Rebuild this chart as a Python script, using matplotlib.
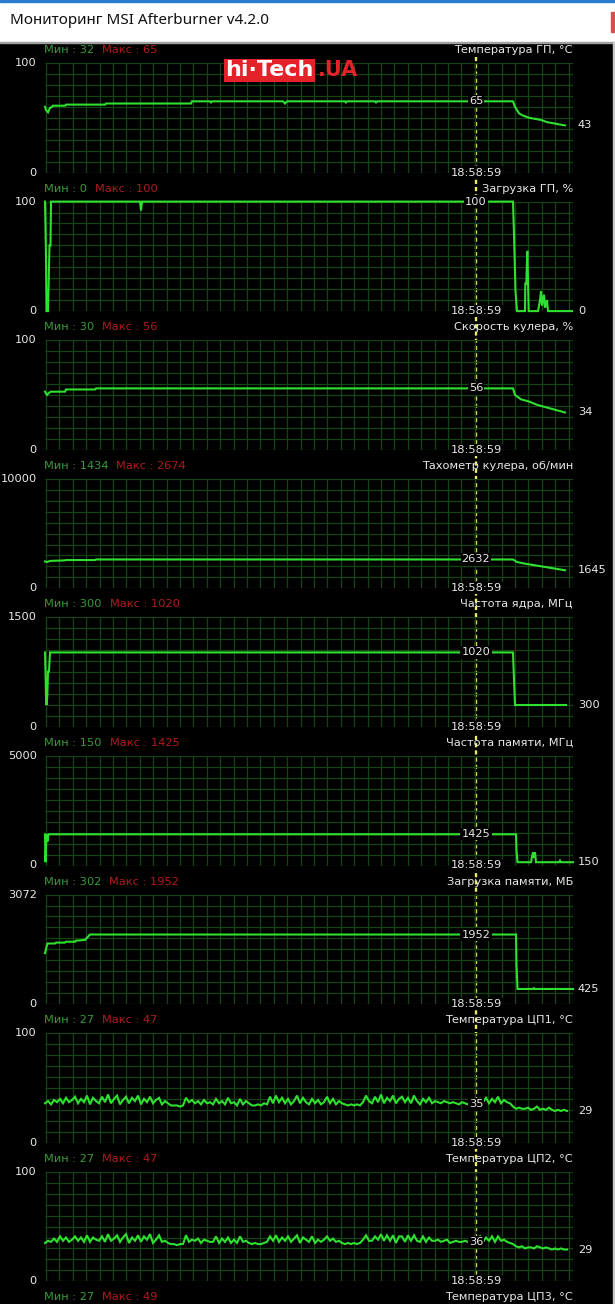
import numpy as np
import matplotlib
matplotlib.use('Agg')
import matplotlib.pyplot as plt
from matplotlib.patches import Rectangle

plt.rcParams['font.family'] = ['DejaVu Sans']
plt.rcParams['font.size'] = 8.2
plt.rcParams['lines.scale_dashes'] = False

W, H = 615, 1304

# --- panel descriptions ---
titles = ['Температура ГП, °C', 'Загрузка ГП, %', 'Скорость кулера, %',
          'Тахометр кулера, об/мин', 'Частота ядра, МГц', 'Частота памяти, МГц',
          'Загрузка памяти, МБ', 'Температура ЦП1, °C', 'Температура ЦП2, °C',
          'Температура ЦП3, °C']
min_vals = [32, 0, 30, 1434, 300, 150, 302, 27, 27, 27]
max_vals = [65, 100, 56, 2674, 1020, 1425, 1952, 47, 47, 49]
y_max = [100, 100, 100, 10000, 1500, 5000, 3072, 100, 100]
top_labels = ['100', '100', '100', '10000', '1500', '5000', '3072', '100', '100']
cursor_labels = ['65', '100', '56', '2632', '1020', '1425', '1952', '35', '36']
last_labels = ['43', '0', '34', '1645', '300', '150', '425', '29', '29']
cursor_time = '18:58:59'
cursor_t = 431

# --- series (t = samples, v = values) ---
gpu_temp_t = [0, 1, 3, 5, 7, 8, 20, 21, 60, 61, 62, 146, 147, 165, 166, 167, 238, 240, 242,
              300, 301, 302, 330, 331, 332, 468, 470, 474, 478, 484, 490, 496, 502, 508, 514, 520]
gpu_temp_v = [60, 57, 55, 59, 60, 61, 61, 62, 62, 63, 63, 63, 65, 65, 64, 65, 65, 63, 65,
              65, 64, 65, 65, 64, 65, 65, 60, 54, 52, 50, 49, 48, 46, 45, 44, 43]

gpu_load_t = [0, 1, 1.5, 3, 4.5, 5.5, 6, 95, 96, 97, 468, 469, 470.5, 472, 480, 480.3, 481.3,
              482.3, 483.7, 493, 495, 496, 497, 499, 500, 502, 503, 527]
gpu_load_v = [100, 50, 0, 0, 60, 60, 100, 100, 92, 100, 100, 70, 18, 0, 0, 25, 25,
              55, 0, 0, 10, 18, 5, 15, 3, 10, 0, 0]

fan_pct_t = [0, 2, 4, 6, 20, 21, 50, 51, 468, 470, 476, 484, 492, 500, 508, 516, 520]
fan_pct_v = [53, 50, 52, 53, 53, 55, 55, 56, 56, 50, 46, 44, 41, 39, 37, 35, 34]

fan_rpm_t = [0, 2, 5, 20, 21, 50, 51, 468, 472, 480, 490, 500, 510, 520]
fan_rpm_v = [2450, 2400, 2500, 2550, 2580, 2580, 2632, 2632, 2400, 2250, 2100, 1950, 1800, 1645]

core_t = [0, 0.5, 1, 1.5, 2.3, 3, 4, 5, 468, 469, 470, 521]
core_v = [1020, 760, 410, 300, 420, 760, 760, 1020, 1020, 650, 300, 300]

mem_clk_t = [0, 0.5, 1.5, 2.5, 3.5, 471, 471.5, 472.5, 486, 487, 488, 489, 490, 491, 493,
             514, 515, 516, 528]
mem_clk_v = [1425, 150, 1425, 1100, 1425, 1425, 700, 150, 150, 400, 600, 350, 600, 150, 150,
             150, 220, 150, 150]

mem_use_t = [0, 1, 2.5, 10, 11, 20, 21, 30, 31, 40, 45, 471, 471.5, 472.5, 488, 489, 490, 528]
mem_use_v = [1430, 1550, 1700, 1700, 1725, 1725, 1750, 1750, 1780, 1800, 1952, 1952, 1100,
             425, 425, 445, 425, 425]

cpu1_v = [36, 38, 35, 39, 37, 40, 36, 41, 37, 39,
          42, 36, 40, 37, 43, 35, 41, 38, 36, 42,
          37, 44, 36, 40, 43, 35, 39, 42, 36, 41,
          38, 43, 35, 40, 37, 42, 36, 39, 41, 35,
          38, 36, 34, 34, 34, 33, 34, 41, 37, 39,
          36, 38, 35, 39, 36, 37, 35, 40, 36, 38,
          35, 41, 36, 37, 34, 40, 35, 38, 36, 34,
          34, 35, 34, 36, 35, 42, 36, 43, 37, 41,
          36, 40, 35, 38, 43, 36, 41, 37, 35, 40,
          36, 39, 35, 37, 42, 36, 40, 35, 38, 36,
          35, 34, 35, 34, 35, 34, 37, 43, 38, 36,
          42, 37, 44, 36, 41, 38, 43, 36, 40, 42,
          37, 41, 36, 43, 38, 35, 40, 37, 41, 36,
          38, 37, 36, 38, 37, 36, 37, 36, 35, 37,
          36, 35, 36, 39, 36, 40, 37, 41, 36, 40,
          37, 42, 36, 39, 37, 36, 33, 31, 32, 31,
          31, 32, 30, 31, 33, 30, 31, 30, 32, 30,
          29, 30, 29, 30, 29]
cpu2_v = [35, 37, 36, 39, 36, 41, 37, 40, 36, 38,
          41, 37, 40, 36, 42, 36, 40, 38, 37, 41,
          36, 43, 37, 39, 42, 36, 40, 43, 35, 40,
          37, 42, 36, 41, 38, 43, 35, 38, 42, 36,
          37, 35, 34, 34, 33, 34, 34, 42, 36, 38,
          37, 39, 35, 38, 37, 36, 36, 41, 35, 39,
          36, 40, 35, 38, 35, 41, 36, 37, 35, 34,
          35, 34, 34, 35, 36, 41, 37, 42, 36, 40,
          37, 41, 36, 39, 42, 35, 40, 38, 36, 41,
          35, 38, 36, 38, 41, 37, 39, 36, 37, 35,
          34, 35, 34, 35, 34, 35, 38, 42, 37, 37,
          41, 38, 43, 37, 42, 37, 42, 35, 41, 41,
          36, 42, 37, 42, 37, 36, 41, 36, 40, 37,
          37, 38, 36, 37, 38, 35, 36, 37, 36, 36,
          37, 36, 35, 38, 37, 41, 36, 40, 37, 41,
          36, 41, 37, 38, 36, 35, 34, 32, 31, 32,
          30, 31, 31, 30, 32, 31, 30, 31, 30, 29,
          30, 29, 30, 29, 29]
cpu_t = np.arange(len(cpu1_v)) * 3

series = [(gpu_temp_t, gpu_temp_v), (gpu_load_t, gpu_load_v), (fan_pct_t, fan_pct_v),
          (fan_rpm_t, fan_rpm_v), (core_t, core_v), (mem_clk_t, mem_clk_v),
          (mem_use_t, mem_use_v), (cpu_t, cpu1_v), (cpu_t, cpu2_v)]

# --- colours / geometry ---
GRID = '#144414'
LINE = '#30e030'
TXT = '#e8e8e8'
MIN_C = '#3a9a3a'
MAX_C = '#b01c1c'
CUR = '#ecec60'
X0, X1 = 45, 573
T_SPAN = 528
TOP0, STEP, PH = 63, 138.6, 109.5

fig = plt.figure(figsize=(W / 100, H / 100), dpi=100)
fig.patch.set_facecolor('black')

bg = fig.add_axes([0, 0, 1, 1])
bg.set_xlim(0, W)
bg.set_ylim(H, 0)
bg.axis('off')

# window title bar
bg.add_patch(Rectangle((0, 0), W, 42, color='white', zorder=1))
bg.add_patch(Rectangle((0, 0), W, 1.5, color='#2b7bd0', zorder=2))
bg.add_patch(Rectangle((0, 41.5), W, 1.2, color='#a0a0a0', zorder=2))
bg.add_patch(Rectangle((611, 12), 4, 20, color='#d65050', zorder=2))
bg.add_patch(Rectangle((613, 42), 2, H - 42, color='#c8c8c8', zorder=2))
bg.text(10, 21, 'Мониторинг MSI Afterburner v4.2.0', fontsize=11, family='Noto Sans',
        color='#111111', va='center', ha='left', zorder=3)

# cursor
cx = X0 + cursor_t / T_SPAN * (X1 - X0)
bg.plot([cx, cx], [57, 1278], color=CUR, lw=1.7, ls=(0, (3, 2.2)), zorder=1)


def header(y, k):
    mn = bg.text(44, y, 'Мин : %d' % min_vals[k], color=MIN_C, va='center', ha='left')
    bg.annotate('Макс : %d' % max_vals[k], xy=(1, 0.5), xycoords=mn, xytext=(8, 0),
                textcoords='offset pixels', color=MAX_C, va='center', ha='left')
    bg.text(X1, y, titles[k], color=TXT, va='center', ha='right')


for k in range(9):
    top = TOP0 + STEP * k
    bot = top + PH
    ax = fig.add_axes([X0 / W, 1 - bot / H, (X1 - X0) / W, PH / H])
    ax.set_facecolor('none')
    ax.set_xlim(0, T_SPAN)
    ax.set_ylim(0, y_max[k])
    for s in ax.spines.values():
        s.set_visible(False)
    ax.set_xticks([])
    ax.set_yticks([])
    ax.vlines(np.arange(1, T_SPAN + 1, 13.4), 0, y_max[k], color=GRID, lw=0.9, zorder=1)
    ax.vlines([T_SPAN], 0, y_max[k], color=GRID, lw=0.9, zorder=1)
    ax.hlines(np.linspace(0, y_max[k], 11), 0, T_SPAN, color=GRID, lw=0.9, zorder=1)

    t, v = series[k]
    ax.plot(t, v, color=LINE, lw=1.5, zorder=3, clip_on=False, solid_joinstyle='miter')

    ax.text(cursor_t, float(cursor_labels[k]), cursor_labels[k], color=TXT, ha='center',
            va='center', zorder=5, bbox=dict(fc='black', ec='none', pad=0.8))
    ax.text(cursor_t, 0, cursor_time, color=TXT, ha='center', va='center', zorder=5,
            bbox=dict(fc='black', ec='none', pad=0.8))

    header(top - 13, k)
    bg.text(37, top, top_labels[k], color=TXT, ha='right', va='center')
    bg.text(37, bot, '0', color=TXT, ha='right', va='center')
    last_y = bot - PH * float(last_labels[k]) / y_max[k]
    bg.text(578, last_y, last_labels[k], color=TXT, ha='left', va='center')

header(TOP0 + STEP * 9 - 13, 9)

# watermark, drawn above the panels
top_ax = fig.add_axes([0, 0, 1, 1], zorder=10)
top_ax.set_xlim(0, W)
top_ax.set_ylim(H, 0)
top_ax.axis('off')
wm = top_ax.text(225, 70.5, 'hi·Tech', color='white', fontsize=16, fontweight='bold',
                 family='DejaVu Sans', va='center', ha='left',
                 bbox=dict(fc='#e3222a', ec='none', pad=1.0))
top_ax.annotate('.UA', xy=(1, 0.5), xycoords=wm, xytext=(5, 0), textcoords='offset pixels',
                color='#e3222a', fontsize=15, fontweight='bold', family='DejaVu Sans',
                va='center', ha='left')

fig.savefig('out.png', dpi=100, facecolor='black')
